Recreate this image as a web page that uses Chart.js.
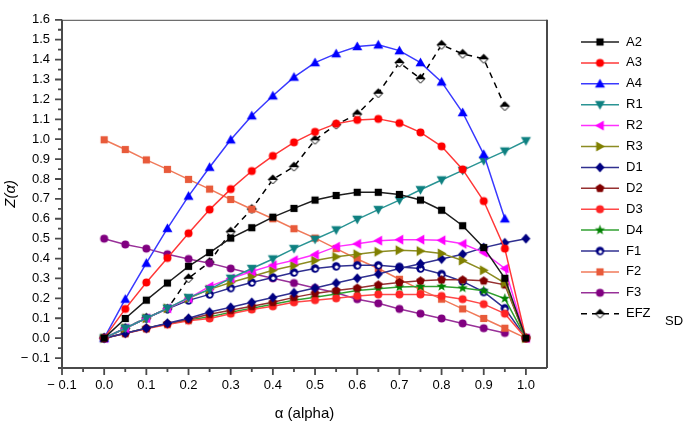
<!DOCTYPE html>
<html>
<head>
<meta charset="utf-8">
<script src="https://cdn.jsdelivr.net/npm/chart.js@4.4.0/dist/chart.umd.min.js"></script>
<style>
html, body { margin: 0; padding: 0; background: #fff; }
#wrap { width: 685px; height: 423px; }
</style>
</head>
<body>
<div id="wrap"><canvas id="zChart"></canvas></div>
<script>
// alpha grid
const alpha = [0, 0.05, 0.1, 0.15, 0.2, 0.25, 0.3, 0.35, 0.4, 0.45, 0.5,
               0.55, 0.6, 0.65, 0.7, 0.75, 0.8, 0.85, 0.9, 0.95, 1.0];

// Z(alpha) values
const A2 = [0, 0.099, 0.191, 0.277, 0.361, 0.43, 0.503, 0.555, 0.608, 0.652, 0.694,
            0.717, 0.733, 0.733, 0.722, 0.694, 0.643, 0.565, 0.455, 0.301, 0];
const A3 = [0, 0.147, 0.28, 0.403, 0.527, 0.646, 0.749, 0.84, 0.916, 0.984, 1.037,
            1.078, 1.097, 1.102, 1.081, 1.034, 0.964, 0.848, 0.689, 0.45, 0];
const A4 = [0, 0.196, 0.377, 0.552, 0.714, 0.859, 0.997, 1.118, 1.218, 1.312, 1.385,
            1.43, 1.466, 1.474, 1.445, 1.385, 1.288, 1.134, 0.924, 0.6];
const R1 = [0, 0.05, 0.1, 0.15, 0.204, 0.245, 0.301, 0.35, 0.398, 0.45, 0.497,
            0.544, 0.597, 0.646, 0.694, 0.746, 0.795, 0.843, 0.892, 0.94, 0.992];
const R2 = [0, 0.05, 0.1, 0.15, 0.2, 0.26, 0.3, 0.335, 0.367, 0.392, 0.42,
            0.46, 0.474, 0.49, 0.495, 0.495, 0.492, 0.474, 0.43, 0.35, 0];
const R3 = [0, 0.05, 0.1, 0.15, 0.2, 0.245, 0.28, 0.31, 0.341, 0.365, 0.39,
            0.409, 0.422, 0.434, 0.442, 0.438, 0.426, 0.39, 0.341, 0.277, 0];
const D1 = [0, 0.025, 0.05, 0.075, 0.1, 0.131, 0.155, 0.18, 0.204, 0.228, 0.252,
            0.277, 0.301, 0.322, 0.35, 0.374, 0.398, 0.422, 0.455, 0.479, 0.5];
const D2 = [0, 0.025, 0.05, 0.073, 0.095, 0.12, 0.14, 0.16, 0.18, 0.205, 0.225,
            0.24, 0.252, 0.268, 0.28, 0.288, 0.293, 0.293, 0.288, 0.268, 0];
const D3 = [0, 0.023, 0.047, 0.068, 0.088, 0.099, 0.123, 0.144, 0.16, 0.18, 0.191,
            0.2, 0.212, 0.22, 0.22, 0.22, 0.212, 0.196, 0.171, 0.123, 0];
const D4 = [0, 0.025, 0.05, 0.071, 0.091, 0.107, 0.13, 0.15, 0.17, 0.19, 0.205,
            0.222, 0.239, 0.248, 0.257, 0.26, 0.26, 0.252, 0.238, 0.199, 0];
const F1 = [0, 0.05, 0.1, 0.147, 0.19, 0.22, 0.252, 0.28, 0.305, 0.33, 0.35,
            0.361, 0.366, 0.366, 0.358, 0.35, 0.322, 0.285, 0.232, 0.15, 0];
const F2 = [0.997, 0.948, 0.896, 0.848, 0.798, 0.749, 0.697, 0.648, 0.6, 0.55, 0.503,
            0.45, 0.398, 0.35, 0.296, 0.244, 0.196, 0.147, 0.099, 0.05, 0];
const F3 = [0.5, 0.471, 0.45, 0.422, 0.398, 0.377, 0.35, 0.325, 0.301, 0.277, 0.252,
            0.228, 0.196, 0.175, 0.147, 0.123, 0.099, 0.074, 0.05, 0.026];
const EFZ = [0, 0.05, 0.102, 0.147, 0.301, 0.382, 0.535, 0.649, 0.798, 0.862, 0.997,
             1.073, 1.126, 1.231, 1.385, 1.304, 1.474, 1.429, 1.404, 1.166];

// marker images
function marker(kind, fill) {
    const s = 13;
    const c = document.createElement('canvas');
    c.width = s; c.height = s;
    const g = c.getContext('2d');
    g.translate(s / 2, s / 2);
    g.fillStyle = fill;
    g.beginPath();
    if (kind === 'square') g.rect(-3.6, -3.6, 7.2, 7.2);
    if (kind === 'circle') g.arc(0, 0, 4, 0, Math.PI * 2);
    if (kind === 'up') { g.moveTo(0, -5); g.lineTo(5, 3.8); g.lineTo(-5, 3.8); }
    if (kind === 'down') { g.moveTo(0, 5); g.lineTo(5, -3.8); g.lineTo(-5, -3.8); }
    if (kind === 'left') { g.moveTo(-5, 0); g.lineTo(3.8, -5); g.lineTo(3.8, 5); }
    if (kind === 'right') { g.moveTo(5, 0); g.lineTo(-3.8, -5); g.lineTo(-3.8, 5); }
    if (kind === 'diamond') { g.moveTo(0, -5); g.lineTo(4.5, 0); g.lineTo(0, 5); g.lineTo(-4.5, 0); }
    if (kind === 'pentagon') {
        for (let i = 0; i < 5; i++) {
            const a = -Math.PI / 2 + i * 2 * Math.PI / 5;
            g.lineTo(4.6 * Math.cos(a), 4.6 * Math.sin(a));
        }
    }
    if (kind === 'star') {
        for (let i = 0; i < 10; i++) {
            const a = -Math.PI / 2 + i * Math.PI / 5;
            const r = i % 2 ? 2.2 : 5.4;
            g.lineTo(r * Math.cos(a), r * Math.sin(a));
        }
    }
    g.closePath();
    g.fill();
    if (kind === 'ring') {
        g.beginPath(); g.arc(0, 0, 4.2, 0, Math.PI * 2); g.fill();
        g.fillStyle = '#fff';
        g.beginPath(); g.arc(0.4, 0.8, 1.7, 0, Math.PI * 2); g.fill();
    }
    if (kind === 'efz') {
        g.beginPath(); g.moveTo(0, -5); g.lineTo(5, 0); g.lineTo(-5, 0); g.closePath(); g.fill();
        g.beginPath(); g.moveTo(-4.5, 0); g.lineTo(0, 4.5); g.lineTo(4.5, 0); g.closePath();
        g.fillStyle = '#fff'; g.fill();
        g.strokeStyle = '#000'; g.lineWidth = 1; g.stroke();
    }
    return c;
}

const seriesList = [
    ['A2', A2, '#1e1e1e', marker('square', '#000'), []],
    ['A3', A3, '#ff3838', marker('circle', '#ff0000'), []],
    ['A4', A4, '#3a3aff', marker('up', '#0000ff'), []],
    ['R1', R1, '#2a9494', marker('down', '#0e8080'), []],
    ['R2', R2, '#ff30ff', marker('left', '#ff00ff'), []],
    ['R3', R3, '#8c8c22', marker('right', '#808000'), []],
    ['D1', D1, '#303090', marker('diamond', '#000080'), []],
    ['D2', D2, '#963030', marker('pentagon', '#800000'), []],
    ['D3', D3, '#ff4848', marker('circle', '#ff2424'), []],
    ['D4', D4, '#30a030', marker('star', '#008000'), []],
    ['F1', F1, '#303090', marker('ring', '#000080'), []],
    ['F2', F2, '#f07a5a', marker('square', '#e85a3a'), []],
    ['F3', F3, '#983098', marker('circle', '#800080'), []],
    ['EFZ', EFZ, '#000', marker('efz', '#000'), [6, 5]]
];

const datasets = seriesList.map(([name, vals, col, pt, dash]) => ({
    label: name,
    data: vals.map((v, i) => ({ x: alpha[i], y: v })),
    borderColor: col,
    backgroundColor: col,
    borderWidth: 1.5,
    borderDash: dash,
    pointStyle: pt,
    tension: 0,
    showLine: true
}));

function fmt(v) {
    const r = Math.round(v * 100);
    if (r % 10 !== 0) return '';
    const s = (Math.abs(r) / 100).toFixed(1);
    return r < 0 ? '\u2212 ' + s : s;
}

const decor = {
    id: 'decor',
    afterDraw(chart) {
        const { ctx, chartArea: a, scales: { x, y } } = chart;
        ctx.save();
        ctx.strokeStyle = '#4a4a4a';
        ctx.lineWidth = 1;
        ctx.strokeRect(a.left + 0.5, a.top + 0.5, a.right - a.left - 1, a.bottom - a.top - 1);
        ctx.lineWidth = 2;
        ctx.beginPath();
        ctx.moveTo(a.left, a.top); ctx.lineTo(a.left, a.bottom); ctx.lineTo(a.right, a.bottom);
        ctx.moveTo(a.right, a.top); ctx.lineTo(a.right, a.bottom);
        ctx.stroke();
        ctx.lineWidth = 1.8;
        ctx.beginPath();
        x.ticks.forEach(t => {
            if (t.value > 1.001) return;
            const px = x.getPixelForValue(t.value);
            ctx.moveTo(px, a.bottom); ctx.lineTo(px, a.bottom + (t.label ? 7 : 4));
        });
        y.ticks.forEach(t => {
            const py = y.getPixelForValue(t.value);
            ctx.moveTo(a.left, py); ctx.lineTo(a.left - (t.label ? 7 : 4), py);
        });
        ctx.stroke();

        // legend
        ctx.font = '13px "Liberation Sans", Arial, sans-serif';
        ctx.textBaseline = 'middle';
        ctx.fillStyle = '#000';
        chart.data.datasets.forEach((ds, i) => {
            const ly = 42 + i * 20.9;
            ctx.strokeStyle = ds.borderColor;
            ctx.lineWidth = 1.5;
            ctx.setLineDash(ds.borderDash);
            ctx.beginPath(); ctx.moveTo(581, ly); ctx.lineTo(619, ly); ctx.stroke();
            ctx.setLineDash([]);
            const img = ds.pointStyle;
            ctx.drawImage(img, 600 - img.width / 2, ly - img.height / 2);
            ctx.fillText(ds.label, 626, ly);
        });
        ctx.fillText('SD', 665, 321);
        ctx.restore();
    }
};

new Chart(document.getElementById('zChart'), {
    type: 'line',
    data: { datasets: datasets },
    plugins: [decor],
    options: {
        responsive: true,
        maintainAspectRatio: false,
        animation: false,
        layout: { padding: { top: 8, right: 138, left: 0, bottom: 0 } },
        plugins: { legend: { display: false }, tooltip: { enabled: false } },
        scales: {
            x: {
                type: 'linear',
                min: -0.1,
                max: 1.05,
                afterFit: s => { s.height = 55; },
                grid: { display: false, drawTicks: false },
                border: { display: false },
                ticks: {
                    stepSize: 0.05,
                    autoSkip: false,
                    maxRotation: 0,
                    padding: 10,
                    color: '#000',
                    font: { family: '"Liberation Sans", Arial, sans-serif', size: 13 },
                    callback: v => fmt(v)
                },
                title: {
                    display: true,
                    text: '\u03b1 (alpha)',
                    color: '#000',
                    padding: 0,
                    font: { family: '"Liberation Sans", Arial, sans-serif', size: 15 }
                }
            },
            y: {
                min: -0.15,
                max: 1.6,
                afterFit: s => { s.width = 62; },
                grid: { display: false, drawTicks: false },
                border: { display: false },
                ticks: {
                    stepSize: 0.05,
                    autoSkip: false,
                    padding: 12,
                    color: '#000',
                    font: { family: '"Liberation Sans", Arial, sans-serif', size: 13 },
                    callback: v => fmt(v)
                },
                title: {
                    display: true,
                    text: 'Z(\u03b1)',
                    color: '#000',
                    padding: { top: 2 },
                    font: { family: '"Liberation Sans", Arial, sans-serif', size: 15, style: 'italic' }
                }
            }
        }
    }
});
</script>
</body>
</html>
